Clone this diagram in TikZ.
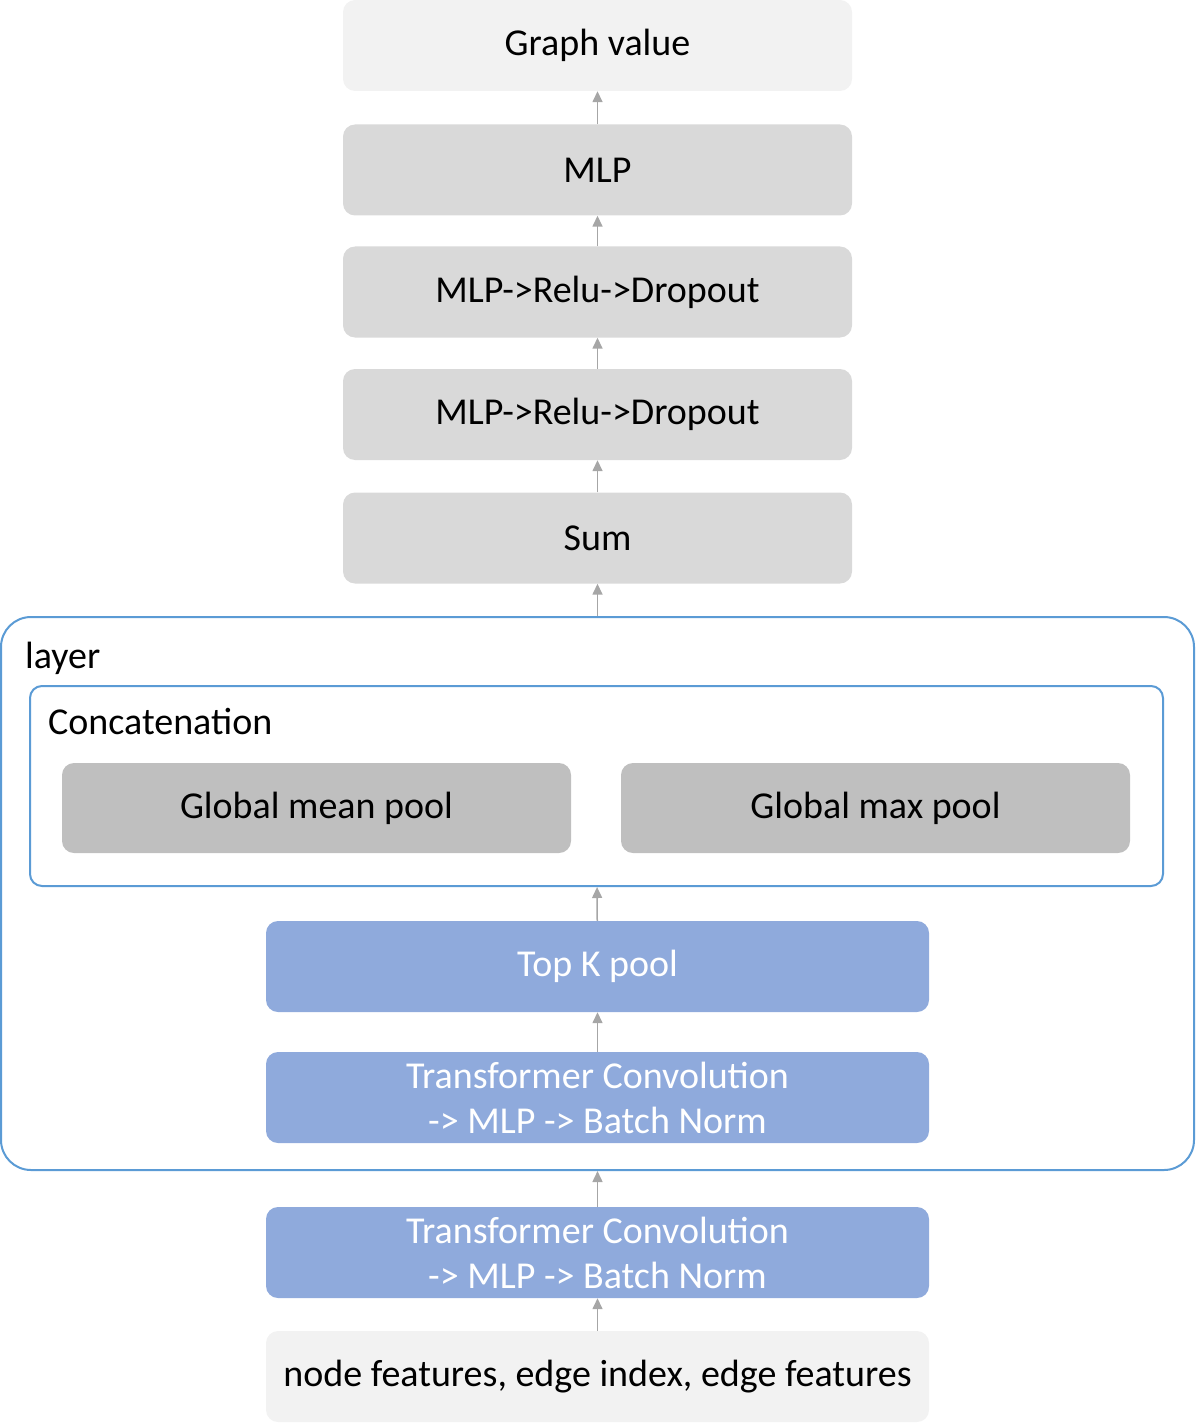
\documentclass[tikz,border=0pt]{standalone}
\usepackage{fontspec}
\setmainfont{Carlito}
\usepackage{xcolor}
\usepackage{tikz}
\usetikzlibrary{arrows.meta}
\definecolor{lightbg}{HTML}{F2F2F2}
\definecolor{midgrey}{HTML}{D9D9D9}
\definecolor{poolgrey}{HTML}{BFBFBF}
\definecolor{convblue}{HTML}{8FAADC}
\definecolor{frameblue}{HTML}{5B9BD5}
\definecolor{arrowgrey}{HTML}{A6A6A6}
\tikzstyle{block}=[rectangle,rounded corners=12pt,inner sep=0pt,align=center,font=\fontsize{38}{45}\selectfont]
\tikzstyle{lightblock}=[block,fill=lightbg,minimum width=509pt,minimum height=91pt]
\tikzstyle{greyblock}=[block,fill=midgrey,minimum width=509pt,minimum height=91pt]
\tikzstyle{poolblock}=[block,fill=poolgrey,minimum width=509pt,minimum height=90pt]
\tikzstyle{convblock}=[block,fill=convblue,text=white,minimum width=663pt,minimum height=91pt]
\tikzstyle{inputblock}=[block,fill=lightbg,minimum width=663pt,minimum height=91pt]
\tikzstyle{frame}=[rectangle,draw=frameblue,line width=2pt,inner sep=0pt]
\tikzstyle{up}=[draw=arrowgrey,line width=1.5pt,-{Triangle[length=11pt,width=10pt]}]

\begin{document}
\begin{tikzpicture}[x=1pt,y=-1pt]
	\useasboundingbox (0,0) rectangle (1195,1423);
	% outer frames
	\node [frame,rounded corners=30pt,minimum width=1193pt,minimum height=553pt] (layer) at (597.5,893.5) {};
	\node [frame,rounded corners=12pt,minimum width=1133pt,minimum height=200pt] (concat) at (596.5,786) {};
	\node [anchor=west,font=\fontsize{38}{45}\selectfont,inner sep=0pt] (layerlabel) at (25,658) {layer};
	\node [anchor=west,font=\fontsize{38}{45}\selectfont,inner sep=0pt] (concatlabel) at (48,721) {Concatenation};
	% head
	\node [lightblock] (out) at (597.5,45.5) {Graph value};
	\node [greyblock] (mlp) at (597.5,170) {MLP};
	\node [greyblock] (drop2) at (597.5,292) {MLP->Relu->Dropout};
	\node [greyblock] (drop1) at (597.5,414.5) {MLP->Relu->Dropout};
	\node [greyblock] (sum) at (597.5,538) {Sum};
	% pooling
	\node [poolblock] (meanpool) at (316.5,808) {Global mean pool};
	\node [poolblock] (maxpool) at (875.5,808) {Global max pool};
	\node [convblock] (topk) at (597.5,966.5) {Top K pool};
	\node [convblock] (conv2) at (597.5,1097.5) {Transformer Convolution\\-> MLP -> Batch Norm};
	% input
	\node [convblock] (conv1) at (597.5,1252.5) {Transformer Convolution\\-> MLP -> Batch Norm};
	\node [inputblock] (input) at (597.5,1376.5) {node features, edge index, edge features};
	% arrows
	\draw [up] (input) -- (conv1);
	\draw [up] (conv1) -- (layer);
	\draw [up] (conv2) -- (topk);
	\draw [up] (topk) -- (concat);
	\draw [up] (layer) -- (sum);
	\draw [up] (sum) -- (drop1);
	\draw [up] (drop1) -- (drop2);
	\draw [up] (drop2) -- (mlp);
	\draw [up] (mlp) -- (out);
\end{tikzpicture}
\end{document}
